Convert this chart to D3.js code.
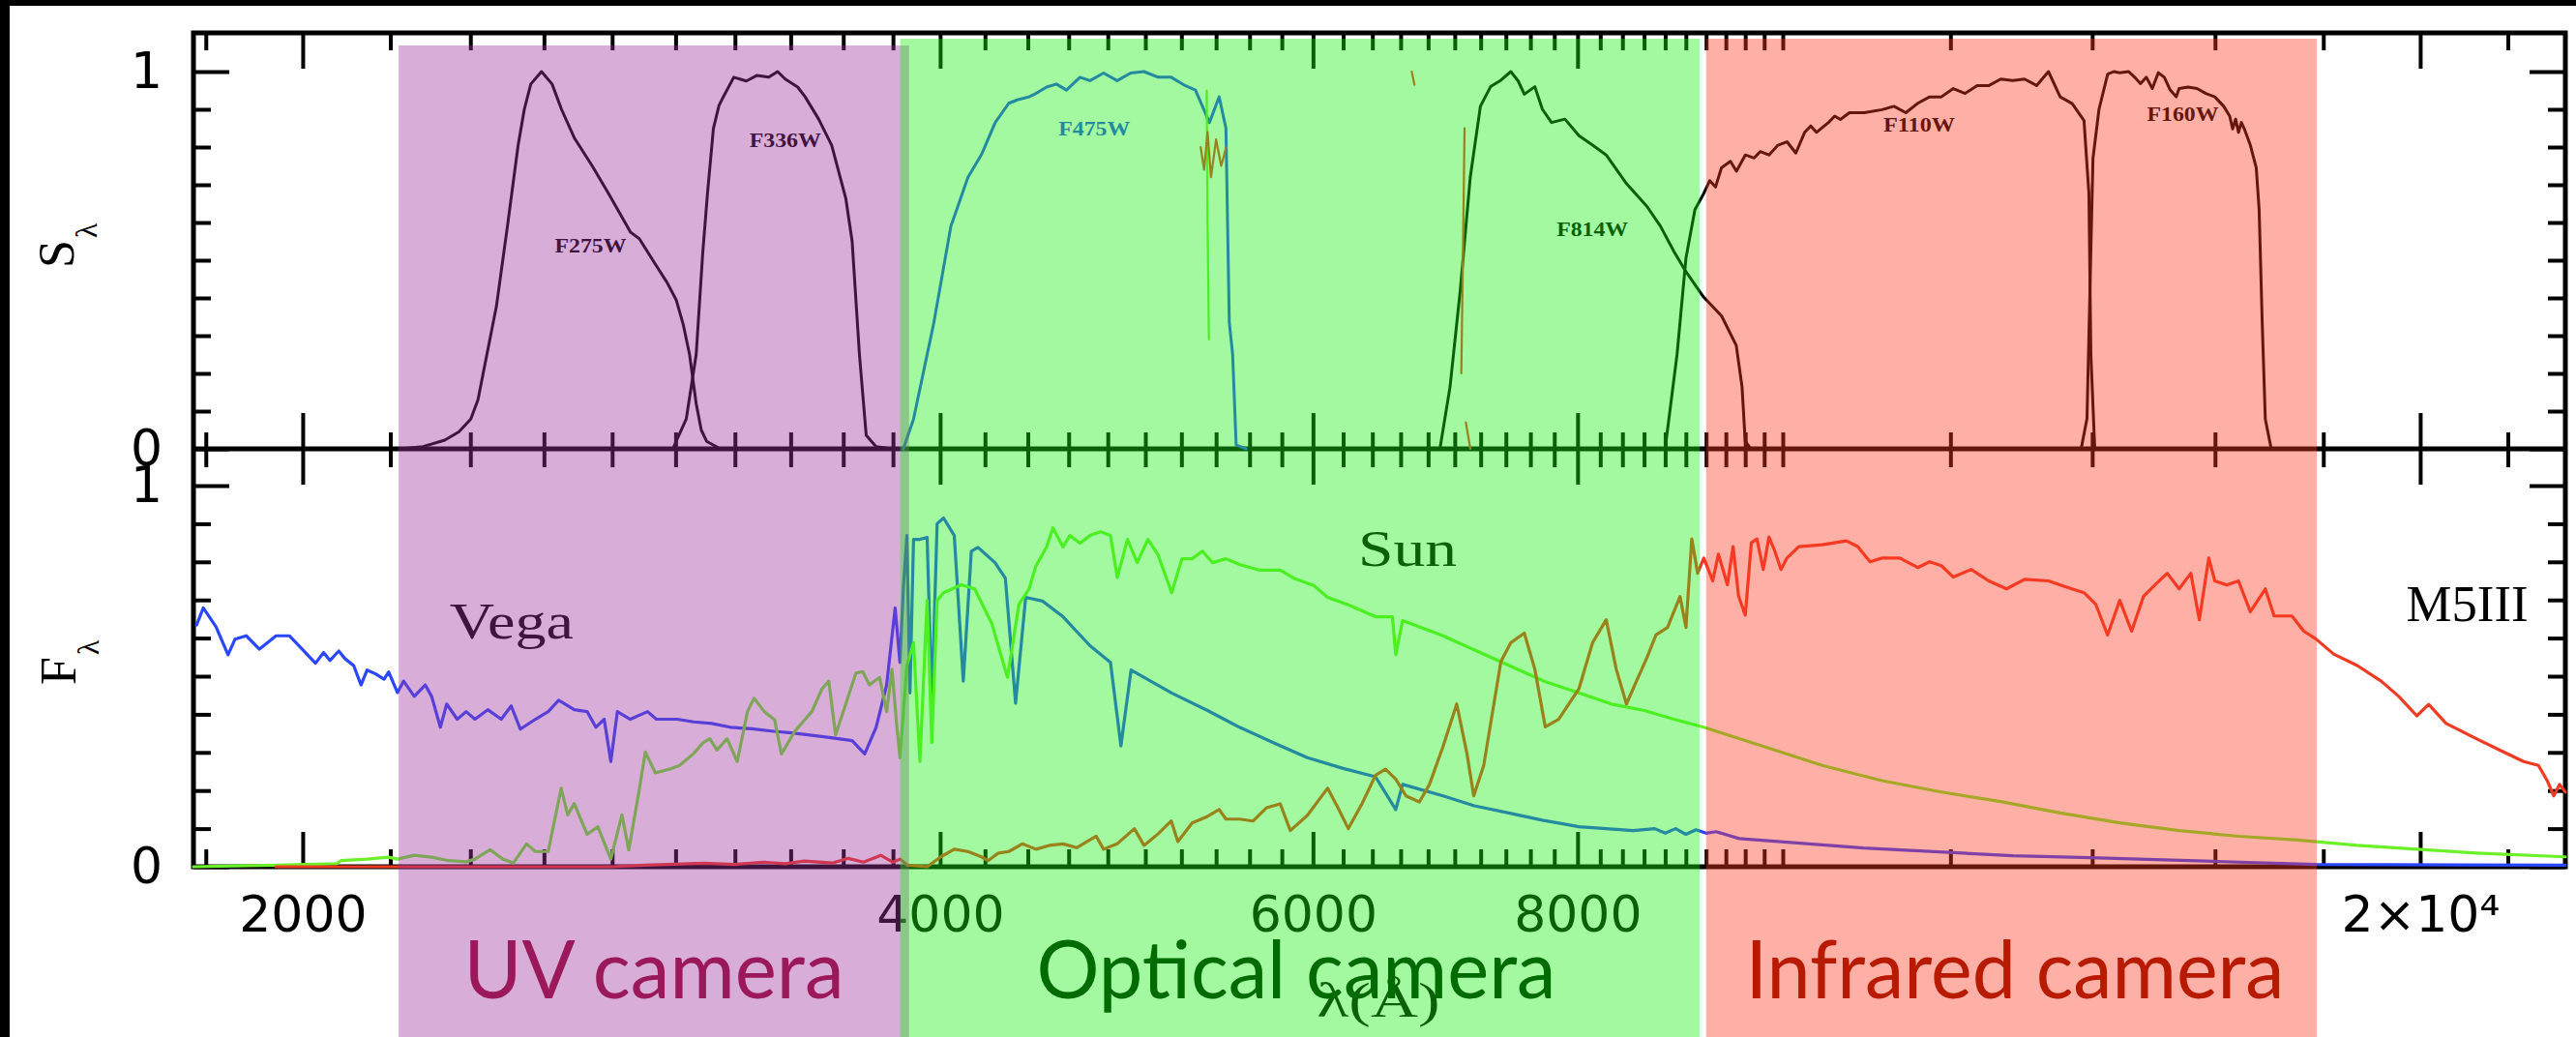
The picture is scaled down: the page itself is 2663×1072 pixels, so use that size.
<!DOCTYPE html>
<html>
<head>
<meta charset="utf-8">
<script src="https://cdn.jsdelivr.net/npm/d3@7"></script>
<style>
  html, body { margin: 0; padding: 0; background: #fff; }
  svg { display: block; }
</style>
</head>
<body>
<script>
// ---------- Filter throughput curves S_lambda: [wavelength (A), S] ----------
const filterF275W = [[2222,0],[2280,0.006],[2334,0.023],[2370,0.045],[2401,0.079],[2420,0.13],[2435,0.207],[2469,0.378],[2499,0.592],[2528,0.805],[2545,0.9],[2563,0.967],[2593,1.0],[2623,0.967],[2650,0.9],[2688,0.823],[2740,0.75],[2789,0.677],[2857,0.574],[2884,0.557],[2935,0.489],[2973,0.44],[3002,0.395],[3025,0.33],[3046,0.25],[3068,0.12],[3085,0.05],[3103,0.02],[3150,0]];
const filterF336W = [[2991,0],[3035,0.079],[3068,0.25],[3090,0.52],[3106,0.677],[3126,0.849],[3145,0.91],[3160,0.933],[3196,0.985],[3240,0.975],[3278,0.99],[3320,0.985],[3352,1.0],[3380,0.98],[3426,0.959],[3454,0.933],[3505,0.874],[3555,0.805],[3610,0.664],[3635,0.55],[3664,0.25],[3691,0.036],[3731,0.006],[3800,0]];
const filterF475W = [[3843,0],[3886,0.079],[3973,0.335],[4047,0.59],[4123,0.72],[4184,0.78],[4247,0.865],[4310,0.916],[4350,0.925],[4406,0.933],[4439,0.942],[4491,0.959],[4539,0.967],[4589,0.951],[4657,0.985],[4708,0.976],[4778,0.996],[4849,0.976],[4921,0.996],[4993,1.0],[5070,0.985],[5143,0.985],[5221,0.963],[5280,0.951],[5361,0.865],[5418,0.933],[5458,0.85],[5478,0.335],[5498,0.25],[5519,0.01],[5580,0]];
const filterF814W = [[6888,0],[6964,0.164],[7042,0.42],[7119,0.72],[7198,0.908],[7278,0.96],[7360,0.977],[7440,1.0],[7500,0.975],[7550,0.94],[7637,0.96],[7700,0.9],[7777,0.865],[7891,0.874],[8012,0.83],[8132,0.805],[8253,0.779],[8437,0.703],[8626,0.643],[8755,0.59],[8884,0.523],[9000,0.47],[9173,0.403],[9357,0.352],[9507,0.274],[9567,0.164],[9600,0.02],[9659,0]];
const filterF110W = [[8799,0],[8914,0.25],[9001,0.506],[9089,0.634],[9177,0.677],[9237,0.711],[9295,0.694],[9355,0.745],[9447,0.762],[9509,0.736],[9601,0.779],[9694,0.771],[9757,0.788],[9851,0.779],[9948,0.805],[10046,0.814],[10143,0.784],[10241,0.839],[10309,0.856],[10373,0.839],[10510,0.865],[10581,0.882],[10647,0.873],[10752,0.891],[10926,0.891],[11140,0.899],[11285,0.908],[11432,0.891],[11582,0.916],[11731,0.933],[11882,0.933],[12038,0.955],[12193,0.942],[12354,0.963],[12514,0.963],[12676,0.98],[12840,0.976],[13008,0.98],[13179,0.963],[13350,1.0],[13521,0.933],[13699,0.915],[13876,0.87],[13950,0.677],[13980,0.25],[14039,0]];
const filterF160W = [[13833,0],[13921,0.08],[13966,0.42],[14012,0.77],[14104,0.9],[14238,0.993],[14332,1.0],[14426,0.997],[14566,1.0],[14662,0.985],[14755,0.968],[14850,0.985],[14946,0.955],[15043,0.997],[15142,0.985],[15240,0.951],[15340,0.933],[15388,0.955],[15538,0.959],[15691,0.955],[15842,0.942],[15997,0.933],[16153,0.908],[16258,0.882],[16310,0.848],[16363,0.874],[16414,0.839],[16466,0.865],[16519,0.848],[16627,0.805],[16734,0.745],[16787,0.634],[16843,0.335],[16900,0.079],[17009,0]];

const filterNames  = ["F275W", "F336W", "F475W", "F814W", "F110W", "F160W"];
const filterCurves = [filterF275W, filterF336W, filterF475W, filterF814W, filterF110W, filterF160W];
const filterColors = ["#000", "#000", "#2a47ff", "#000", "#000", "#000"];
// label anchor: [wavelength, S]
const filterLabelAt = [[2735,0.52],[3380,0.80],[4730,0.83],[8130,0.565],[11600,0.84],[15450,0.87]];

// Spectrum fragments that leak into the throughput panel: [colour index, points]
const strayFragments = [
  [1, [[5345,0.95],[5350,0.6],[5358,0.29]]],
  [2, [[5310,0.8],[5330,0.74],[5350,0.84],[5370,0.72],[5400,0.82],[5430,0.75],[5460,0.8]]],
  [2, [[7075,0.85],[7060,0.45],[7050,0.2]]],
  [2, [[7085,0.07],[7120,0.0]]],
  [2, [[6680,1.0],[6700,0.965]]]
];

// ---------- Normalised spectra F_lambda: [wavelength (A), F] ----------
const specVega = [[1782,0.634],[1795,0.679],[1820,0.63],[1844,0.556],[1858,0.597],[1881,0.606],[1908,0.571],[1943,0.606],[1971,0.606],[1999,0.571],[2028,0.534],[2046,0.562],[2060,0.541],[2080,0.566],[2094,0.546],[2114,0.528],[2131,0.477],[2145,0.516],[2165,0.506],[2185,0.492],[2196,0.511],[2217,0.457],[2232,0.487],[2258,0.447],[2285,0.477],[2301,0.447],[2323,0.366],[2339,0.427],[2366,0.387],[2389,0.407],[2412,0.387],[2446,0.412],[2482,0.387],[2509,0.422],[2534,0.361],[2576,0.387],[2612,0.407],[2642,0.437],[2687,0.412],[2725,0.407],[2751,0.366],[2776,0.387],[2796,0.276],[2816,0.407],[2856,0.387],[2910,0.407],[2938,0.387],[3005,0.387],[3060,0.38],[3120,0.376],[3184,0.366],[3260,0.362],[3330,0.356],[3403,0.351],[3480,0.345],[3560,0.338],[3635,0.331],[3685,0.296],[3731,0.366],[3774,0.477],[3809,0.679],[3829,0.536],[3843,0.729],[3858,0.869],[3871,0.456],[3886,0.859],[3913,0.859],[3944,0.864],[3964,0.429],[3987,0.9],[4015,0.915],[4062,0.869],[4102,0.487],[4138,0.828],[4168,0.838],[4246,0.798],[4294,0.757],[4342,0.429],[4390,0.707],[4471,0.697],[4572,0.656],[4708,0.58],[4814,0.536],[4869,0.317],[4923,0.516],[5145,0.456],[5350,0.41],[5539,0.366],[5750,0.325],[5964,0.286],[6200,0.258],[6422,0.236],[6565,0.15],[6614,0.216],[6912,0.186],[7150,0.16],[7440,0.14],[7700,0.122],[8012,0.105],[8500,0.095],[8700,0.1],[8800,0.088],[8900,0.1],[9000,0.085],[9100,0.097],[9200,0.088],[9300,0.092],[9537,0.074],[10919,0.049],[12843,0.029],[13971,0.024],[16002,0.014],[17853,0.006],[23420,0.004]];
const specSun = [[1776,0],[1943,0.004],[2075,0.008],[2085,0.016],[2145,0.02],[2196,0.025],[2217,0.02],[2258,0.03],[2301,0.025],[2344,0.016],[2389,0.013],[2412,0.02],[2452,0.045],[2486,0.02],[2515,0.01],[2551,0.06],[2576,0.04],[2612,0.04],[2649,0.206],[2668,0.136],[2687,0.166],[2725,0.085],[2757,0.105],[2796,0.02],[2830,0.136],[2851,0.044],[2882,0.193],[2903,0.301],[2935,0.246],[2980,0.256],[3013,0.266],[3058,0.296],[3092,0.326],[3114,0.336],[3138,0.306],[3173,0.336],[3208,0.276],[3244,0.407],[3267,0.442],[3304,0.407],[3341,0.386],[3366,0.296],[3416,0.356],[3479,0.407],[3518,0.467],[3544,0.487],[3570,0.346],[3610,0.427],[3650,0.508],[3677,0.512],[3704,0.477],[3745,0.497],[3774,0.407],[3796,0.518],[3815,0.376],[3829,0.286],[3858,0.528],[3886,0.588],[3913,0.276],[3944,0.699],[3964,0.326],[3987,0.699],[4015,0.719],[4093,0.74],[4153,0.729],[4231,0.638],[4304,0.497],[4358,0.689],[4406,0.729],[4439,0.789],[4491,0.839],[4522,0.889],[4572,0.839],[4606,0.869],[4657,0.849],[4708,0.869],[4762,0.879],[4814,0.869],[4850,0.759],[4904,0.859],[4956,0.798],[5014,0.859],[5070,0.818],[5145,0.719],[5203,0.808],[5261,0.808],[5320,0.828],[5379,0.798],[5458,0.808],[5539,0.793],[5663,0.778],[5790,0.778],[5876,0.757],[6008,0.737],[6096,0.707],[6235,0.687],[6422,0.656],[6541,0.656],[6565,0.556],[6614,0.646],[6912,0.606],[7170,0.566],[7440,0.526],[7720,0.486],[8012,0.456],[8313,0.426],[8603,0.41],[8884,0.387],[9177,0.366],[9790,0.316],[10439,0.266],[11140,0.226],[11882,0.196],[12676,0.171],[13521,0.141],[14426,0.115],[15388,0.095],[16414,0.08],[17508,0.07],[18677,0.056],[19927,0.046],[21259,0.036],[23420,0.026]];
const specM5III = [[1943,0],[2800,0.0],[2900,0.004],[3092,0.009],[3200,0.006],[3300,0.012],[3380,0.008],[3450,0.015],[3560,0.01],[3620,0.022],[3680,0.012],[3750,0.03],[3800,0.012],[3830,0.02],[3860,0.004],[3944,0.0],[4003,0.026],[4062,0.046],[4123,0.04],[4184,0.026],[4214,0.016],[4262,0.036],[4310,0.04],[4374,0.06],[4439,0.046],[4505,0.056],[4572,0.06],[4640,0.05],[4740,0.08],[4778,0.046],[4849,0.06],[4941,0.1],[4993,0.056],[5069,0.086],[5143,0.12],[5180,0.066],[5261,0.115],[5340,0.13],[5418,0.15],[5458,0.125],[5539,0.125],[5622,0.12],[5705,0.155],[5790,0.165],[5854,0.095],[5964,0.135],[6096,0.206],[6165,0.155],[6235,0.1],[6328,0.165],[6422,0.24],[6492,0.256],[6565,0.23],[6638,0.186],[6736,0.17],[6810,0.216],[6912,0.316],[7015,0.427],[7094,0.296],[7146,0.186],[7224,0.266],[7360,0.538],[7440,0.588],[7550,0.613],[7637,0.518],[7724,0.367],[7837,0.387],[8012,0.467],[8132,0.588],[8253,0.648],[8344,0.518],[8437,0.427],[8531,0.488],[8626,0.548],[8712,0.608],[8822,0.628],[8943,0.709],[9001,0.628],[9058,0.86],[9116,0.77],[9177,0.81],[9267,0.75],[9324,0.82],[9416,0.74],[9474,0.84],[9531,0.71],[9601,0.66],[9664,0.85],[9723,0.86],[9790,0.78],[9851,0.865],[9911,0.83],[9981,0.78],[10046,0.81],[10176,0.84],[10439,0.845],[10716,0.855],[10849,0.84],[10996,0.8],[11140,0.81],[11357,0.81],[11582,0.785],[11731,0.8],[11882,0.79],[12038,0.76],[12273,0.78],[12510,0.75],[12756,0.729],[13008,0.754],[13350,0.75],[13608,0.734],[13876,0.719],[14054,0.689],[14236,0.608],[14426,0.699],[14614,0.618],[14802,0.709],[14985,0.739],[15190,0.77],[15388,0.729],[15585,0.77],[15730,0.648],[15892,0.81],[15997,0.75],[16206,0.739],[16414,0.75],[16627,0.669],[16900,0.729],[17063,0.658],[17395,0.658],[17623,0.618],[17853,0.598],[18203,0.558],[18677,0.528],[19169,0.487],[19539,0.447],[19927,0.396],[20185,0.426],[20572,0.376],[21259,0.336],[21811,0.306],[22382,0.276],[22744,0.266],[22962,0.226],[23125,0.186],[23272,0.216],[23420,0.196]];

const starNames   = ["Vega", "Sun", "M5III"];
const starSpectra = [specVega, specSun, specM5III];
const starColors  = ["#2a47ff", "#6cf02a", "#f03a22"];
// label anchor: [wavelength, F]
const starLabelAt = [[2510,0.60],[6650,0.79],[21050,0.645]];

// ---------- Axis ticks ----------
const xMajorTicks = [2000, 4000, 6000, 8000, 20000];
const xMajorLabels = ["2000", "4000", "6000", "8000", "2\u00d710\u2074"];
const xMinorTicks = d3.range(1800, 10001, 200).filter(v => !xMajorTicks.includes(v))
  .concat([12000, 14000, 16000, 18000, 22000]);
const yMajorTicks = [0, 1];
const yMinorTicks = [0.1, 0.2, 0.3, 0.4, 0.5, 0.6, 0.7, 0.8, 0.9];

// ---------- Camera bands: [from, to] wavelength ----------
const cameraNames  = ["UV camera", "Optical camera", "Infrared camera"];
const cameraRanges = [[2220, 3867], [3830, 9135], [9201, 17872]];

// ---------- Layout ----------
const W = 2663, H = 1072;
const LEFT = 200, RIGHT = 2652, TOP = 34, MID = 464, BOT = 896;

const svg = d3.select("body").append("svg")
  .attr("width", W).attr("height", H)
  .attr("viewBox", `0 0 ${W} ${H}`);

svg.append("rect").attr("width", W).attr("height", H).attr("fill", "#fff");

const x  = d3.scaleLog().domain([1776, 23420]).range([LEFT, RIGHT]);
const yS = d3.scaleLinear().domain([0, 1]).range([MID, 74]);
const yF = d3.scaleLinear().domain([0, 1]).range([BOT, 502]);

const tickFont = "DejaVu Sans, Verdana, sans-serif";
const serif = "Liberation Serif, Times New Roman, serif";

// ---------- Axes ----------
const axes = svg.append("g").attr("class", "axes");

function drawAxis(axisGen, tx, ty, values, size, labels, padding) {
  const a = axisGen.tickValues(values).tickSizeInner(-size).tickSizeOuter(0)
    .tickPadding(padding || 0)
    .tickFormat(labels ? ((d, i) => labels[i]) : () => "");
  const g = axes.append("g").attr("transform", `translate(${tx},${ty})`).call(a);
  g.select(".domain").remove();
  g.selectAll(".tick line").attr("stroke", "#000").attr("stroke-width", 4);
  g.selectAll(".tick text").attr("font-family", tickFont).attr("font-size", 52).attr("fill", "#000");
  return g;
}

// top edge (ticks point down), middle line (both panels), bottom edge (ticks up)
drawAxis(d3.axisTop(x), 0, TOP, xMinorTicks, 18);
drawAxis(d3.axisTop(x), 0, TOP, xMajorTicks, 37);
drawAxis(d3.axisBottom(x), 0, MID, xMinorTicks, 17);
drawAxis(d3.axisBottom(x), 0, MID, xMajorTicks, 37);
drawAxis(d3.axisTop(x), 0, MID, xMinorTicks, 19);
drawAxis(d3.axisTop(x), 0, MID, xMajorTicks, 37);
drawAxis(d3.axisBottom(x), 0, BOT, xMinorTicks, 18);
drawAxis(d3.axisBottom(x), 0, BOT, xMajorTicks, 36, xMajorLabels, 30);

// y axes, both panels, left (labelled) and right
[yS, yF].forEach(ys => {
  drawAxis(d3.axisLeft(ys), LEFT, 0, yMinorTicks, 18);
  drawAxis(d3.axisLeft(ys), LEFT, 0, yMajorTicks, 37, ["0", "1"], 32);
  drawAxis(d3.axisRight(ys), RIGHT, 0, yMinorTicks, 18);
  drawAxis(d3.axisRight(ys), RIGHT, 0, yMajorTicks, 37);
});

// frame
axes.append("rect").attr("x", LEFT).attr("y", TOP).attr("width", RIGHT - LEFT).attr("height", BOT - TOP)
  .attr("fill", "none").attr("stroke", "#000").attr("stroke-width", 5);
axes.append("line").attr("x1", LEFT).attr("x2", RIGHT).attr("y1", MID).attr("y2", MID)
  .attr("stroke", "#000").attr("stroke-width", 5);

// ---------- Curves ----------
const lineS = d3.line().x(d => x(d[0])).y(d => yS(d[1]));
const lineF = d3.line().x(d => x(d[0])).y(d => yF(d[1]));

const curves = svg.append("g").attr("fill", "none").attr("stroke-linejoin", "round").attr("stroke-linecap", "round");
filterCurves.forEach((c, i) => {
  curves.append("path").attr("d", lineS(c)).attr("stroke", filterColors[i]).attr("stroke-width", 3);
});
strayFragments.forEach(([ci, pts]) => {
  curves.append("path").attr("d", lineS(pts)).attr("stroke", starColors[ci]).attr("stroke-width", 2.2);
});
starSpectra.forEach((c, i) => {
  curves.append("path").attr("d", lineF(c)).attr("stroke", starColors[i]).attr("stroke-width", 3.2);
});

// filter labels
svg.append("g").selectAll("text").data(filterNames).join("text")
  .attr("x", (d, i) => x(filterLabelAt[i][0]))
  .attr("y", (d, i) => yS(filterLabelAt[i][1]))
  .attr("text-anchor", "middle")
  .attr("font-family", serif).attr("font-weight", "bold").attr("font-size", 22)
  .attr("textLength", 74).attr("lengthAdjust", "spacingAndGlyphs")
  .attr("fill", (d, i) => filterColors[i])
  .text(d => d);

// star labels
const starLabelW = [128, 102, 126];
svg.append("g").selectAll("text").data(starNames).join("text")
  .attr("x", (d, i) => x(starLabelAt[i][0]))
  .attr("y", (d, i) => yF(starLabelAt[i][1]))
  .attr("text-anchor", "middle")
  .attr("font-family", serif).attr("font-size", 52)
  .attr("textLength", (d, i) => starLabelW[i]).attr("lengthAdjust", "spacingAndGlyphs")
  .attr("fill", "#000")
  .text(d => d);

// axis titles
function sublabel(tx, ty, main) {
  const t = svg.append("text").attr("transform", `translate(${tx},${ty}) rotate(-90)`)
    .attr("font-family", serif).attr("font-size", 52).attr("fill", "#000");
  t.append("tspan").text(main);
  t.append("tspan").attr("dy", 24).attr("dx", 2).attr("font-size", 32).text("\u03bb");
}
sublabel(76, 277, "S");
sublabel(78, 708, "F");

svg.append("text").attr("x", 1425).attr("y", 1051).attr("text-anchor", "middle")
  .attr("font-family", serif).attr("font-size", 50)
  .attr("textLength", 127).attr("lengthAdjust", "spacingAndGlyphs")
  .attr("fill", "#000").text("\u03bb(\u00c5)");

// ---------- Camera bands (translucent overlays) ----------
const bandFill = ["rgb(158,53,158)", "rgb(25,240,18)", "rgb(255,58,33)"];
const bandTop  = [47, 40, 40];
svg.append("g").selectAll("rect").data(cameraRanges).join("rect")
  .attr("x", d => x(d[0]))
  .attr("width", d => x(d[1]) - x(d[0]))
  .attr("y", (d, i) => bandTop[i])
  .attr("height", (d, i) => H - bandTop[i])
  .attr("fill", (d, i) => bandFill[i])
  .attr("fill-opacity", 0.4);

// camera names
const camColor = ["#9b195a", "#006b00", "#b81a00"];
const camCenter = [676, 1340, 2083];
const camWidth = [393, 537, 557];
svg.append("g").selectAll("text").data(cameraNames).join("text")
  .attr("x", (d, i) => camCenter[i])
  .attr("y", 1032)
  .attr("text-anchor", "middle")
  .attr("font-family", "Lato, Open Sans, sans-serif").attr("font-size", 84)
  .attr("textLength", (d, i) => camWidth[i]).attr("lengthAdjust", "spacingAndGlyphs")
  .attr("fill", (d, i) => camColor[i])
  .text(d => d);

// page border
svg.append("rect").attr("x", 0).attr("y", 0).attr("width", W).attr("height", 6).attr("fill", "#000");
svg.append("rect").attr("x", 0).attr("y", 0).attr("width", 10).attr("height", H).attr("fill", "#000");
</script>
</body>
</html>
